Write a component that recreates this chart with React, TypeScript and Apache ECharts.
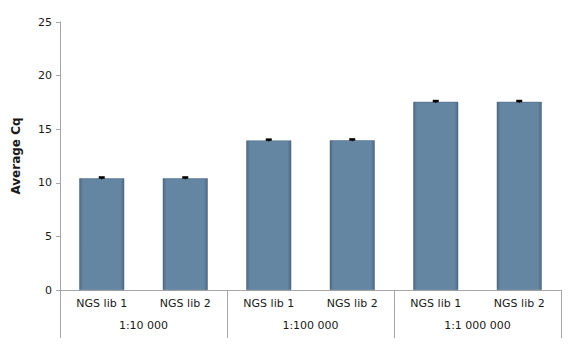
import React, { useEffect, useRef } from "react";
import * as echarts from "echarts";

const libLabels = ["NGS lib 1", "NGS lib 2", "NGS lib 1", "NGS lib 2", "NGS lib 1", "NGS lib 2"];
const groupLabels = ["1:10 000", "1:100 000", "1:1 000 000"];
const averageCq = [10.42, 10.42, 13.95, 13.97, 17.55, 17.55];
const errors = [0.1, 0.1, 0.1, 0.1, 0.1, 0.1];
const yTicks = { min: 0, max: 25, interval: 5 };

const FONT = "DejaVu Sans";

export default function App() {
  const ref = useRef<HTMLDivElement>(null);
  useEffect(() => {
    if (!ref.current) return;
    const chart = echarts.init(ref.current, null, { renderer: "svg" });
    const barColor = new echarts.graphic.LinearGradient(0, 0, 1, 0, [
      { offset: 0, color: "#4d6a84" },
      { offset: 0.08, color: "#6586a2" },
      { offset: 0.92, color: "#6586a2" },
      { offset: 1, color: "#4d6a84" },
    ]);
    chart.setOption({
      animation: false,
      backgroundColor: "#ffffff",
      grid: { left: 60, right: 9, top: 22, bottom: 61, containLabel: false },
      xAxis: [
        {
          type: "category",
          data: libLabels,
          position: "bottom",
          axisLine: { show: true, lineStyle: { color: "#a6a6a6", width: 1 } },
          axisTick: { show: false },
          axisLabel: { color: "#1a1a1a", fontFamily: FONT, fontSize: 11, margin: 8, interval: 0 },
        },
        {
          type: "category",
          data: groupLabels,
          position: "bottom",
          axisLine: { show: false },
          axisTick: { show: true, length: 48, interval: 0, lineStyle: { color: "#a6a6a6", width: 1 } },
          axisLabel: { color: "#1a1a1a", fontFamily: FONT, fontSize: 11, margin: 30, interval: 0 },
        },
      ],
      yAxis: {
        type: "value",
        min: yTicks.min,
        max: yTicks.max,
        interval: yTicks.interval,
        name: "Average Cq",
        nameLocation: "middle",
        nameGap: 38,
        nameTextStyle: { color: "#1a1a1a", fontFamily: FONT, fontSize: 12, fontWeight: "bold" },
        axisLine: { show: true, lineStyle: { color: "#a6a6a6", width: 1 } },
        axisTick: { show: true, length: 4, lineStyle: { color: "#a6a6a6" } },
        axisLabel: { color: "#1a1a1a", fontFamily: FONT, fontSize: 11, margin: 8 },
        splitLine: { show: false },
      },
      series: [
        {
          type: "bar",
          xAxisIndex: 0,
          data: averageCq,
          barWidth: 45,
          itemStyle: { color: barColor, borderColor: "#4a6680", borderWidth: 0.5 },
        },
        {
          type: "custom",
          xAxisIndex: 0,
          data: averageCq.map((v, i) => [i, v, errors[i]]),
          renderItem: (params: any, api: any) => {
            const x = api.value(0);
            const v = api.value(1);
            const e = api.value(2);
            const top = api.coord([x, v + e]);
            const bot = api.coord([x, v - e]);
            return {
              type: "group",
              children: [
                {
                  type: "line",
                  shape: { x1: top[0], y1: top[1], x2: bot[0], y2: bot[1] },
                  style: { stroke: "#000", lineWidth: 1 },
                },
                {
                  type: "rect",
                  shape: { x: top[0] - 3, y: top[1] - 1, width: 6, height: 2.5 },
                  style: { fill: "#000" },
                },
              ],
            };
          },
          z: 10,
        },
      ],
    });
    return () => chart.dispose();
  }, []);
  return <div ref={ref} style={{ width: 570, height: 351, position: "absolute", left: 0, top: 0 }} />;
}
